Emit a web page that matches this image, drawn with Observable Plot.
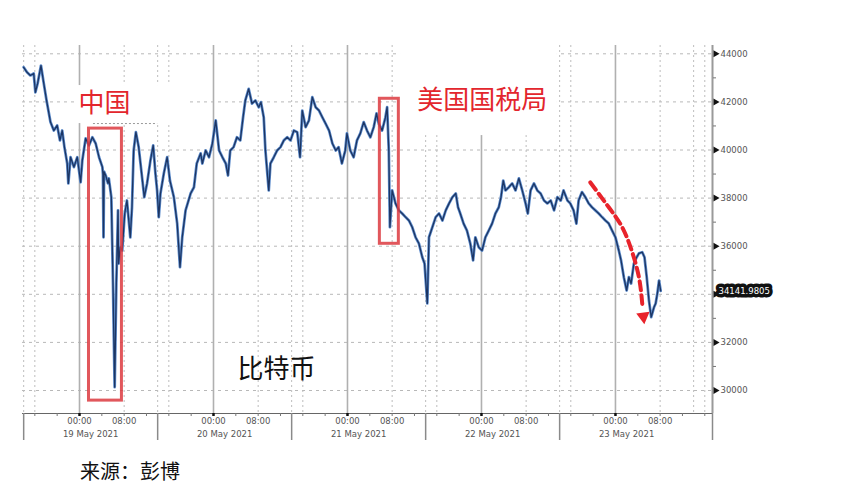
<!DOCTYPE html>
<html><head><meta charset="utf-8">
<script src="https://cdn.jsdelivr.net/npm/d3@7"></script>
<script src="https://cdn.jsdelivr.net/npm/@observablehq/plot@0.6"></script>
<style>
body{margin:0;background:#fff;}
#chart{width:846px;height:445px;}
#caption{font-family:"Noto Sans CJK SC",sans-serif;font-size:20px;line-height:28px;color:#111;margin:12px 0 0 80px;}
</style></head><body>
<div id="chart"></div>
<div id="caption">来源：彭博</div>
<script>
// Bitcoin price, hours from 19 May 2021 00:00
const hours = [-10.0,-9.4,-8.8,-8.2,-7.9,-7.5,-6.9,-6.4,-5.9,-5.2,-4.6,-4.0,-3.5,-3.1,-2.7,-2.2,-2.0,-1.6,-1.0,-0.4,0.2,0.5,1.1,1.7,2.3,2.9,3.5,4.1,4.2,4.3,4.4,4.7,5.1,5.25,5.7,6.0,6.15,6.3,6.45,6.6,6.9,7.0,7.3,7.65,8.1,8.5,9.1,9.4,9.7,10.1,10.6,11.2,11.6,12.1,12.7,13.2,13.6,13.9,14.2,14.5,15.1,15.7,16.2,16.9,17.5,18.0,18.4,19.0,19.9,20.5,21.0,21.7,22.0,22.6,23.2,23.8,24.4,25.0,25.6,26.2,26.6,27.0,27.6,28.2,28.8,29.3,29.7,30.3,30.9,31.5,32.1,32.5,33.0,33.3,33.7,33.9,34.2,34.8,35.4,36.0,36.6,37.2,37.8,38.4,39.0,39.5,39.9,40.5,41.1,41.7,42.3,42.9,43.5,44.1,44.7,45.3,45.9,46.4,47.0,47.6,47.9,48.5,49.1,49.7,50.3,50.9,51.5,52.1,52.7,53.2,53.6,54.2,54.8,55.1,55.4,55.6,56.0,56.6,57.2,57.8,58.4,59.0,59.6,60.2,60.8,61.4,61.8,62.3,62.6,63.2,63.8,64.4,65.0,65.6,66.2,66.8,67.4,67.8,68.2,68.8,69.4,70.0,70.5,70.9,71.5,72.1,72.7,73.3,73.9,74.5,75.1,75.5,75.9,76.3,76.9,77.5,78.1,78.7,79.3,79.9,80.3,80.8,81.4,82.0,82.6,83.2,83.8,84.4,85.0,85.6,86.2,86.7,87.4,87.9,88.5,89.0,89.4,90.0,90.6,91.2,91.8,92.4,93.0,93.6,94.2,94.8,95.4,96.0,96.6,97.0,97.5,98.0,98.4,98.8,99.3,99.8,100.2,100.8,101.2,101.6,102.0,102.4,102.9,103.2,103.5,103.8,104.1];
const prices = [43440,43230,43100,43180,42400,42770,43510,42770,42060,41160,40810,41020,40400,40810,40120,39440,38610,39700,39290,39700,38660,39560,40480,40190,40530,40270,39700,39290,39000,36370,39100,38940,38610,38820,38040,34450,32220,30140,32370,34450,37490,35280,35960,35820,37360,37900,36370,37620,39980,40740,40120,38870,38040,38610,39560,40190,39020,38320,37210,38190,39020,39700,38730,38040,36940,35130,36370,37490,38190,38450,39440,39860,39440,39980,39700,40270,41230,39980,39700,39440,38940,39980,40120,40530,40400,41360,42060,42540,41930,42060,41780,41990,41360,39980,38870,38320,39440,39700,39980,40120,40400,40530,40400,40810,40740,39700,41640,40950,41230,42200,41780,41640,41360,41090,40810,40270,39980,40120,39440,39980,40690,39980,39700,40400,40690,41160,40810,40530,40950,41520,41100,40810,41360,41780,39980,36790,38320,37780,37490,37360,37210,37070,36790,36370,36110,35540,35280,33620,36370,36790,37210,37360,37070,37490,37780,38040,38190,37620,37360,36940,36650,36110,35410,36370,35960,35820,36370,36650,36940,37360,37620,38040,38730,38320,38450,38610,38320,38820,38320,37780,37360,38320,38610,38320,38190,37900,37780,37900,37490,38040,37900,38320,37900,37780,37490,36940,37900,38250,38040,37780,37620,37490,37360,37210,37070,36940,36650,36370,35820,35410,34710,34160,34710,34450,35280,35540,35700,35750,35540,34710,33740,33050,33460,33620,34030,34570,34142];
const lastPrice = [34141.9805];

const yTicks = [30000,32000,34000,36000,38000,40000,42000,44000];
const yLabelTicks = [30000,32000,36000,38000,40000,42000,44000]; // 34000 hidden under the last-price box
const yMinorTicks = [31000,33000,35000,37000,39000,41000,43000];
const dayNames = [19,20,21,22,23];

// annotations (data units)
const boxH1 = [1.7, 53.8], boxH2 = [7.6, 57.2], boxP1 = [29580, 36100], boxP2 = [40890, 42130];
const patchH1 = [-0.7, 57.5], patchH2 = [19.3, 85.6], patchP1 = [41100, 40600], patchP2 = [42680, 44345];
const labelText = ["中国", "美国国税局", "比特币"];
const labelH = [-0.2, 60.5, 28.3], labelP = [41930, 42060, 30870];
const labelColor = ["#e3262d", "#e3262d", "#111"];
const arrowH = [91.5, 94.8, 97.2, 98.9, 100.2, 100.8];
const arrowP = [38650, 37620, 36790, 35820, 34710, 33600];
const arrowTip = [{h: 101.0, p: 33080}];

const base = Date.UTC(2021, 4, 19);
const T = h => new Date(base + h * 3600e3);
const data = hours.map((h, i) => ({t: T(h), p: prices[i]}));

const xDomain = [T(-10.21), T(113.38)];
const yDomain = [29044, 44345];

const dayStarts = dayNames.map((d, i) => T(24 * i));
const labelTicks = dayNames.flatMap((d, i) => [T(24 * i), T(24 * i + 8)]);
const dateTicks = dayNames.map((d, i) => T(24 * i + 2));
const separators = [-10, 14, 38, 62, 86].map(T).concat([xDomain[1]]);
const dotted = [];
for (let i = -1; i < 5; i++) { [8, 14, 16].forEach(k => { const h = 24 * i + k; if (h > -10.3 && h < 113) dotted.push(T(h)); }); }
const minorX = d3.range(-8, 113, 4).map(T);

const boxes = boxH1.map((h, i) => ({x1: T(h), x2: T(boxH2[i]), y1: boxP1[i], y2: boxP2[i]}));
const patches = patchH1.map((h, i) => ({x1: T(h), x2: T(patchH2[i]), y1: patchP1[i], y2: patchP2[i]}));
const labels = labelText.map((s, i) => ({t: T(labelH[i]), p: labelP[i], s, c: labelColor[i]}));
const arrow = arrowH.map((h, i) => ({t: T(h), p: arrowP[i]}));

const chart = Plot.plot({
  width: 846, height: 445,
  marginLeft: 22, marginRight: 134, marginTop: 45, marginBottom: 32,
  style: {fontFamily: "DejaVu Sans", fontSize: "8.5px", color: "#555", background: "white"},
  x: {type: "utc", domain: xDomain},
  y: {domain: yDomain},
  marks: [
    Plot.ruleY(yTicks, {stroke: "#b8b8b8", strokeDasharray: "3,4"}),
    Plot.ruleX(dotted, {stroke: "#bdbdbd", strokeDasharray: "2,3"}),
    Plot.ruleX(dayStarts, {stroke: "#b0b0b0", strokeWidth: 1.6}),
    Plot.rect(patches, {x1: "x1", x2: "x2", y1: "y1", y2: "y2", fill: "white"}),
    Plot.ruleY([41100], {x1: T(2.5), x2: T(14.0), stroke: "#999", strokeDasharray: "2,2"}),
    Plot.line(data, {x: "t", y: "p", stroke: "#5d8ccc", strokeWidth: 2.8}),
    Plot.line(data, {x: "t", y: "p", stroke: "#1c3563", strokeWidth: 1.3}),
    Plot.rect(boxes, {x1: "x1", x2: "x2", y1: "y1", y2: "y2", fill: "none", stroke: "#dc3a40", strokeWidth: 3, strokeOpacity: 0.85}),
    Plot.text(labels, {x: "t", y: "p", text: "s", fill: "c", textAnchor: "start", fontSize: 26, fontFamily: "Noto Sans CJK SC"}),
    Plot.line(arrow, {x: "t", y: "p", curve: "natural", stroke: "#e8232b", strokeWidth: 4, strokeDasharray: "9,5"}),
    Plot.dot(arrowTip, {x: d => T(d.h), y: "p", symbol: "triangle", rotate: 173, r: 5, fill: "#e8232b"}),
    Plot.ruleY([yDomain[0]], {stroke: "#666"}),
    Plot.ruleX([xDomain[1]], {stroke: "#9a9a9a", strokeWidth: 2}),
    Plot.axisY({anchor: "right", ticks: yLabelTicks, tickSize: 0, tickPadding: 8, tickFormat: d3.format("d"), fill: "#555"}),
    Plot.axisY({anchor: "right", ticks: yMinorTicks, tickSize: 3, tickFormat: () => "", stroke: "#777"}),
    Plot.dot(yTicks, {y: d => d, frameAnchor: "right", dx: 3, symbol: "triangle", rotate: 90, r: 2.6, fill: "#111"}),
    Plot.text(lastPrice, {y: d => d, frameAnchor: "right", dx: 6, text: d => d3.format(".4f")(d), textAnchor: "start", fill: "white", stroke: "#111", strokeWidth: 7, strokeLinejoin: "round", paintOrder: "stroke", fontSize: 8.5}),
    Plot.axisX({ticks: minorX, tickSize: 3, tickFormat: () => "", stroke: "#777"}),
    Plot.axisX({ticks: dayStarts, tickSize: 3, strokeWidth: 2.5, tickFormat: () => "", stroke: "#111"}),
    Plot.axisX({ticks: separators, tickSize: 27, strokeWidth: 1.5, tickFormat: () => "", stroke: "#8a8a8a"}),
    Plot.axisX({ticks: labelTicks, tickSize: 0, tickPadding: 4, tickFormat: d3.utcFormat("%H:%M"), fill: "#555"}),
    Plot.axisX({ticks: dateTicks, tickSize: 0, tickPadding: 17, tickFormat: d3.utcFormat("%-d %b %Y"), fill: "#555"})
  ]
});
document.getElementById("chart").appendChild(chart);
</script>
</body></html>
